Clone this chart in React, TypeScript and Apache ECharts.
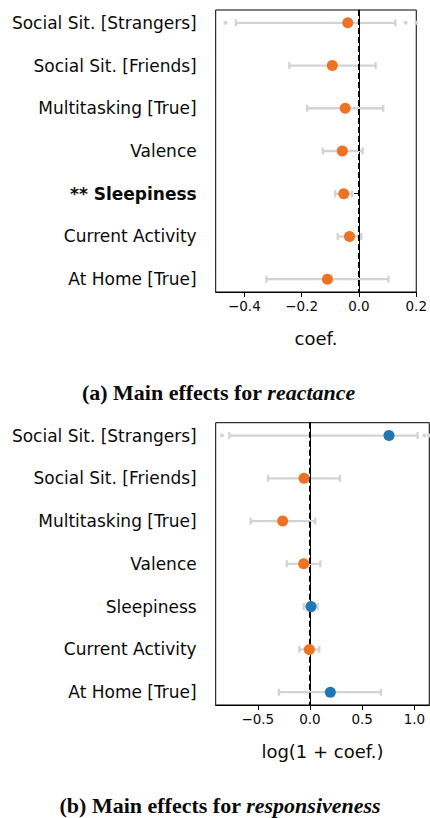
import React, { useEffect, useRef } from "react";
import * as echarts from "echarts";

const categories = [
  "Social Sit. [Strangers]",
  "Social Sit. [Friends]",
  "Multitasking [True]",
  "Valence",
  "Sleepiness",
  "Current Activity",
  "At Home [True]",
];
const reactSignif = ["", "", "", "", "**", "", ""];
const reactCoef = [-0.039, -0.093, -0.048, -0.058, -0.053, -0.033, -0.11];
const reactLow = [-0.43, -0.243, -0.181, -0.126, -0.083, -0.074, -0.323];
const reactHigh = [0.127, 0.058, 0.085, 0.013, -0.024, 0.008, 0.103];
const reactOutliers = [[-0.466, 0], [0.163, 0], [0.2, 0]];
const reactTicks = [-0.4, -0.2, 0.0, 0.2];

const respSignif = ["", "", "", "", "", "", ""];
const respCoef = [0.757, -0.057, -0.262, -0.06, 0.01, -0.006, 0.195];
const respLow = [-0.773, -0.402, -0.568, -0.223, -0.06, -0.102, -0.297];
const respHigh = [1.031, 0.287, 0.051, 0.099, 0.074, 0.089, 0.68];
const respOutliers = [[-0.843, 0], [1.095, 0], [1.14, 0]];
const respTicks = [-0.5, 0.0, 0.5, 1.0];

const ORANGE = "#ef7124";
const BLUE = "#1f77b4";
const GRAY = "#d3d3d3";
const SANS = "DejaVu Sans";
const SERIF = "Liberation Serif";
const INK = "#0a0a0a";

const rowIdx = categories.map((_, i) => i);

function fmtTick(v: number) {
  const s = Math.abs(v).toFixed(1);
  return v < 0 ? "\u2212" + s : s;
}

export default function App() {
  const ref = useRef<HTMLDivElement>(null);
  useEffect(() => {
    if (!ref.current) return;
    const chart = echarts.init(ref.current, null, { renderer: "svg" });

    const yAxisFor = (gi: number, signif: string[]) => ({
      type: "value",
      gridIndex: gi,
      inverse: true,
      min: -0.3,
      max: 6.3,
      splitLine: { show: false },
      axisLine: { show: true, lineStyle: { color: "#000", width: 1 } },
      axisTick: {
        show: true,
        length: 5,
        customValues: rowIdx,
        lineStyle: { color: "#000" },
      },
      axisLabel: {
        customValues: rowIdx,
        margin: 19,
        fontFamily: SANS,
        fontSize: 17,
        color: INK,
        formatter: (v: number) => {
          const i = Math.round(v);
          const s = signif[i];
          return s ? `{b|${s} ${categories[i]}}` : categories[i];
        },
        rich: {
          b: { fontFamily: SANS, fontSize: 17, fontWeight: "bold", color: INK },
        },
      },
    });

    const xAxisFor = (gi: number, min: number, max: number, ticks: number[], name: string) => ({
      type: "value",
      gridIndex: gi,
      min,
      max,
      name,
      nameLocation: "middle",
      nameGap: 37,
      nameTextStyle: { fontFamily: SANS, fontSize: 18, color: INK },
      splitLine: { show: false },
      axisLine: { show: true, onZero: false, lineStyle: { color: "#000", width: 1 } },
      axisTick: { show: true, length: 5, customValues: ticks, lineStyle: { color: "#000" } },
      axisLabel: {
        customValues: ticks,
        margin: 7,
        fontFamily: SANS,
        fontSize: 13.5,
        color: INK,
        formatter: (v: number) => fmtTick(v),
      },
    });

    const errSeries = (gi: number, low: number[], high: number[]) => ({
      type: "custom",
      xAxisIndex: gi,
      yAxisIndex: gi,
      clip: true,
      z: 2,
      encode: { x: [0, 1], y: 2 },
      data: rowIdx.map((i) => [low[i], high[i], i]),
      renderItem: (params: any, api: any) => {
        const a = api.coord([api.value(0), api.value(2)]);
        const b = api.coord([api.value(1), api.value(2)]);
        const c = 3.5;
        const st = { stroke: GRAY, lineWidth: 2.3 };
        return {
          type: "group",
          children: [
            { type: "line", shape: { x1: a[0], y1: a[1], x2: b[0], y2: b[1] }, style: st },
            { type: "line", shape: { x1: a[0], y1: a[1] - c, x2: a[0], y2: a[1] + c }, style: st },
            { type: "line", shape: { x1: b[0], y1: b[1] - c, x2: b[0], y2: b[1] + c }, style: st },
          ],
        };
      },
    });

    const outlierSeries = (gi: number, pts: number[][]) => ({
      type: "scatter",
      xAxisIndex: gi,
      yAxisIndex: gi,
      symbolSize: 4,
      z: 2,
      itemStyle: { color: GRAY, opacity: 1 },
      data: pts,
      clip: true,
    });

    const zeroLine = (gi: number) => ({
      type: "line",
      xAxisIndex: gi,
      yAxisIndex: gi,
      z: 3,
      symbol: "none",
      lineStyle: { color: "#000", width: 2, type: [6, 3] },
      data: [
        [0, -0.3],
        [0, 6.3],
      ],
    });

    const pointSeries = (gi: number, coef: number[]) => ({
      type: "scatter",
      xAxisIndex: gi,
      yAxisIndex: gi,
      symbolSize: 11,
      z: 4,
      data: rowIdx.map((i) => ({
        value: [coef[i], i],
        itemStyle: { color: coef[i] > 0 ? BLUE : ORANGE, opacity: 1 },
      })),
    });

    const captionRich = {
      b: { fontFamily: SERIF, fontSize: 22, fontWeight: "bold", fill: INK },
      i: { fontFamily: SERIF, fontSize: 22, fontWeight: "bold", fontStyle: "italic", fill: INK },
    };

    chart.setOption({
      animation: false,
      backgroundColor: "#fff",
      grid: [
        { left: 215.7, top: 10, width: 205, height: 282, show: true, borderColor: "#000", borderWidth: 1 },
        { left: 215.7, top: 422.7, width: 213.6, height: 282.3, show: true, borderColor: "#000", borderWidth: 1 },
      ],
      xAxis: [
        xAxisFor(0, -0.5, 0.2, reactTicks, "coef."),
        xAxisFor(1, -0.903, 1.143, respTicks, "log(1 + coef.)"),
      ],
      yAxis: [yAxisFor(0, reactSignif), yAxisFor(1, respSignif)],
      series: [
        errSeries(0, reactLow, reactHigh),
        outlierSeries(0, reactOutliers),
        zeroLine(0),
        pointSeries(0, reactCoef),
        errSeries(1, respLow, respHigh),
        outlierSeries(1, respOutliers),
        zeroLine(1),
        pointSeries(1, respCoef),
      ],
      graphic: [
        {
          type: "text",
          x: 218.5,
          y: 392,
          style: {
            text: "{b|(a) Main effects for }{i|reactance}",
            align: "center",
            verticalAlign: "middle",
            rich: captionRich,
          },
        },
        {
          type: "text",
          x: 220,
          y: 805,
          style: {
            text: "{b|(b) Main effects for }{i|responsiveness}",
            align: "center",
            verticalAlign: "middle",
            rich: captionRich,
          },
        },
      ],
    });
    return () => chart.dispose();
  }, []);
  return (
    <div
      ref={ref}
      style={{ position: "absolute", left: 0, top: 0, width: 430, height: 818 }}
    />
  );
}
